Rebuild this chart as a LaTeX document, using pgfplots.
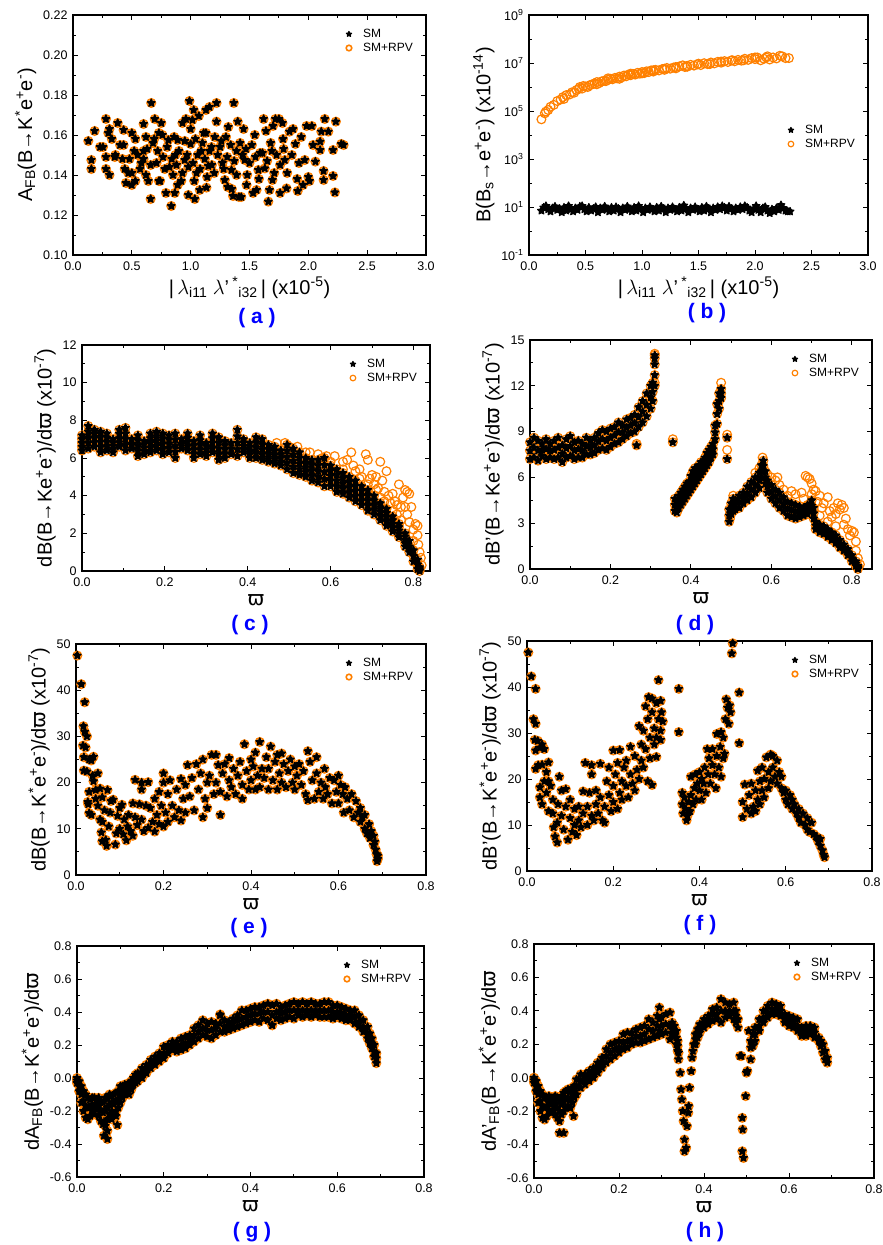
\documentclass[border=0pt]{standalone}
\usepackage{fontspec}
\setmainfont{Liberation Sans}
\newfontfamily\dejavu{DejaVu Sans}
\usepackage{pgfplots}
\usepackage{pgfplotstable}
\pgfplotsset{compat=1.18}
\definecolor{orng}{RGB}{255,128,0}
\definecolor{lblue}{RGB}{0,0,255}

% five-pointed star marker
\pgfdeclareplotmark{pstar}{%
  \pgfpathmoveto{\pgfpointpolar{90}{\pgfplotmarksize}}%
  \pgfpathlineto{\pgfpointpolar{126}{0.5\pgfplotmarksize}}%
  \pgfpathlineto{\pgfpointpolar{162}{\pgfplotmarksize}}%
  \pgfpathlineto{\pgfpointpolar{198}{0.5\pgfplotmarksize}}%
  \pgfpathlineto{\pgfpointpolar{234}{\pgfplotmarksize}}%
  \pgfpathlineto{\pgfpointpolar{270}{0.5\pgfplotmarksize}}%
  \pgfpathlineto{\pgfpointpolar{306}{\pgfplotmarksize}}%
  \pgfpathlineto{\pgfpointpolar{342}{0.5\pgfplotmarksize}}%
  \pgfpathlineto{\pgfpointpolar{18}{\pgfplotmarksize}}%
  \pgfpathlineto{\pgfpointpolar{54}{0.5\pgfplotmarksize}}%
  \pgfpathclose
  \pgfusepathqfillstroke
}

\newcommand{\vp}{{\dejavu ϖ}}

\pgfplotsset{
  panel/.style={
    scale only axis, anchor=north west,
    axis line style={line width=1.2pt},
    every tick/.style={black, line width=0.9pt},
    major tick length=5pt, minor tick length=3pt,
    tick align=inside, minor tick num=1,
    tick label style={font=\fontsize{12.5}{14}\selectfont},
    label style={font=\fontsize{20}{23}\selectfont},
    /pgf/number format/assume math mode=true,
    xticklabel style={yshift=-3pt, /pgf/number format/.cd, fixed, fixed zerofill, precision=1},
    yticklabel style={xshift=-2pt},
    legend style={draw=none, fill=none, font=\fontsize{12}{15}\selectfont,
      at={(1,1)}, anchor=north east, xshift=-8pt, yshift=-10pt, cells={anchor=west}},
    legend image code/.code={\draw[##1, mark size=2.8pt] plot coordinates {(0cm,0cm)}; \path (0.42cm,0cm);},
  },
  sm/.style={only marks, mark=pstar, mark size=4.1pt,
    mark options={draw=black, fill=black, line width=1.0pt, line join=round}},
  rpv/.style={only marks, color=orng, mark=o, mark size=4.2pt,
    mark options={draw=orng, line width=1.6pt}},
  rpvo/.style={only marks, color=orng, mark=o, mark size=4.4pt,
    mark options={draw=orng, line width=1.2pt}},
  w/.style={xlabel={\vp}, xtick={0,0.2,0.4,0.6,0.8}, xlabel style={yshift=-1pt}},
}

% ---------- (a) ----------
\pgfplotstableread[row sep=\\]{x y\\
0.13 0.157\\ 0.156 0.1475\\ 0.156 0.143\\ 0.184 0.162\\ 0.23 0.154\\ 0.255 0.154\\ 0.28 0.168\\ 0.28 0.149\\
0.28 0.143\\ 0.30 0.161\\ 0.31 0.163\\ 0.31 0.140\\ 0.33 0.158\\ 0.355 0.149\\ 0.36 0.150\\ 0.38 0.166\\
0.40 0.155\\ 0.43 0.155\\ 0.43 0.1625\\ 0.44 0.143\\ 0.45 0.136\\ 0.48 0.148\\ 0.50 0.161\\ 0.50 0.135\\
0.50 0.141\\ 0.52 0.152\\ 0.53 0.137\\ 0.57 0.143\\ 0.60 0.1655\\ 0.60 0.152\\ 0.60 0.148\\ 0.62 0.140\\
0.62 0.159\\ 0.64 0.137\\ 0.66 0.128\\ 0.665 0.176\\ 0.68 0.156\\ 0.695 0.168\\ 0.71 0.146\\ 0.73 0.161\\
0.75 0.166\\ 0.74 0.137\\ 0.765 0.149\\ 0.79 0.131\\ 0.81 0.1575\\ 0.82 0.144\\ 0.835 0.1245\\ 0.85 0.140\\
0.865 0.131\\ 0.87 0.150\\ 0.89 0.1575\\ 0.92 0.137\\ 0.93 0.166\\ 0.95 0.1475\\ 0.96 0.168\\ 0.98 0.130\\
0.99 0.177\\ 1.0 0.1555\\ 1.015 0.1675\\ 1.026 0.1725\\ 1.035 0.128\\ 1.05 0.141\\ 1.07 0.1695\\ 1.077 0.1325\\
1.09 0.152\\ 1.11 0.161\\ 1.13 0.1725\\ 1.134 0.1337\\ 1.15 0.1445\\ 1.16 0.174\\ 1.177 0.154\\ 1.205 0.159\\
1.22 0.176\\ 1.22 0.1667\\ 1.25 0.154\\ 1.27 0.146\\ 1.29 0.1375\\ 1.30 0.159\\ 1.315 0.134\\ 1.32 0.164\\
1.347 0.1425\\ 1.36 0.1295\\ 1.367 0.176\\ 1.39 0.152\\ 1.40 0.1667\\ 1.41 0.129\\ 1.43 0.129\\ 1.45 0.163\\
1.46 0.1475\\ 1.475 0.135\\ 1.48 0.140\\ 1.53 0.131\\ 1.545 0.160\\ 1.56 0.1325\\ 1.575 0.1425\\ 1.59 0.151\\
1.62 0.168\\ 1.63 0.1433\\ 1.64 0.162\\ 1.66 0.1267\\ 1.67 0.1325\\ 1.69 0.152\\ 1.695 0.1375\\ 1.70 0.1645\\
1.72 0.168\\ 1.75 0.168\\ 1.76 0.131\\ 1.78 0.166\\ 1.785 0.158\\ 1.80 0.1475\\ 1.815 0.1333\\ 1.84 0.1617\\
1.87 0.163\\ 1.89 0.1555\\ 1.905 0.138\\ 1.91 0.132\\ 1.94 0.159\\ 1.955 0.135\\ 1.97 0.1475\\ 1.985 0.1645\\
2.0 0.139\\ 2.01 0.137\\ 2.03 0.1645\\ 2.04 0.155\\ 2.06 0.1467\\ 2.10 0.1567\\ 2.10 0.1525\\ 2.11 0.1617\\
2.13 0.1375\\ 2.13 0.142\\ 2.14 0.168\\ 2.17 0.1617\\ 2.21 0.1525\\ 2.21 0.1395\\ 2.226 0.1313\\ 2.234 0.1667\\
2.28 0.1555\\ 2.30 0.155\\
0.55 0.150\\ 0.58 0.146\\ 0.63 0.153\\ 0.66 0.145\\ 0.69 0.158\\ 0.72 0.152\\ 0.76 0.160\\ 0.78 0.143\\
0.80 0.154\\ 0.84 0.148\\ 0.86 0.159\\ 0.88 0.145\\ 0.90 0.152\\ 0.93 0.141\\ 0.95 0.157\\ 0.97 0.150\\
0.98 0.144\\ 1.00 0.163\\ 1.02 0.146\\ 1.04 0.158\\ 1.06 0.150\\ 1.08 0.143\\ 1.10 0.156\\ 1.12 0.148\\
1.14 0.139\\ 1.16 0.152\\ 1.18 0.145\\ 1.20 0.141\\ 1.23 0.150\\ 1.26 0.157\\ 1.28 0.143\\ 1.31 0.149\\
1.34 0.155\\ 1.37 0.147\\ 1.39 0.140\\ 1.42 0.156\\ 1.44 0.150\\ 1.47 0.153\\ 1.50 0.146\\ 1.52 0.155\\
1.55 0.149\\ 1.58 0.138\\ 1.61 0.151\\ 1.65 0.147\\ 1.68 0.156\\ 1.71 0.141\\ 1.73 0.150\\ 1.76 0.145\\
1.79 0.153\\ 1.82 0.141\\ 1.86 0.150\\ 1.92 0.146\\ 0.53 0.158\\ 0.47 0.141\\ 0.42 0.148\\ 1.03 0.137\\
1.13 0.161\\ 1.35 0.133\\ 0.73 0.137\\ 0.89 0.135\\
}\dA

% ---------- (b) ----------
\pgfplotstableread[row sep=\\]{x y\\
0.11 7\\ 0.13 9.5\\ 0.15 11\\ 0.17 8\\ 0.19 6.5\\ 0.21 9\\ 0.23 10.5\\ 0.25 7.5\\ 0.27 8.5\\ 0.29 6\\
0.31 9.5\\ 0.33 7\\ 0.35 11\\ 0.37 8\\ 0.39 6.5\\ 0.41 9\\ 0.43 7.5\\ 0.45 10.5\\ 0.47 11\\ 0.49 8\\
0.51 6.5\\ 0.53 9.5\\ 0.55 7\\ 0.57 8.5\\ 0.59 10\\ 0.61 6\\ 0.63 9\\ 0.65 7.5\\ 0.67 10.5\\ 0.69 8\\
0.71 6.5\\ 0.73 9.5\\ 0.75 7\\ 0.77 10\\ 0.79 8.5\\ 0.81 6\\ 0.83 9\\ 0.85 7.5\\ 0.87 10.5\\ 0.89 8\\
0.91 6.5\\ 0.93 9.5\\ 0.95 7\\ 0.97 11\\ 0.99 8.5\\ 1.01 6\\ 1.03 9\\ 1.05 7.5\\ 1.07 10\\ 1.09 8\\
1.11 6.5\\ 1.13 9.5\\ 1.15 7\\ 1.17 10.5\\ 1.19 8.5\\ 1.21 6\\ 1.23 9\\ 1.25 7.5\\ 1.27 10\\ 1.29 8\\
1.31 6.5\\ 1.33 9.5\\ 1.35 7\\ 1.37 11.5\\ 1.39 8.5\\ 1.41 6\\ 1.43 9\\ 1.45 7.5\\ 1.47 10\\ 1.49 8\\
1.51 6.5\\ 1.53 9.5\\ 1.55 7\\ 1.57 10.5\\ 1.59 8.5\\ 1.61 6\\ 1.63 9\\ 1.65 7.5\\ 1.67 10\\ 1.69 8\\
1.71 11\\ 1.73 9.5\\ 1.75 7\\ 1.77 10.5\\ 1.79 8.5\\ 1.81 6.5\\ 1.83 9\\ 1.85 7.5\\ 1.87 10\\ 1.89 8\\
1.91 11\\ 1.93 9.5\\ 1.95 7\\ 1.97 6\\ 1.99 8.5\\ 2.01 11\\ 2.03 7.5\\ 2.05 6\\ 2.07 9\\ 2.09 10\\
2.11 7\\ 2.13 5.5\\ 2.15 8\\ 2.17 6.5\\ 2.19 9\\ 2.21 7.5\\ 2.23 12\\ 2.25 9\\ 2.27 7\\ 2.29 6.5\\ 2.31 6.5\\
}\dBsm
\pgfplotstableread[row sep=\\]{x y\\
0.11 4.5e4\\ 0.14 8.0e4\\ 0.15 9.5e4\\ 0.17 1.1e5\\ 0.19 1.5e5\\ 0.22 1.8e5\\ 0.25 2.6e5\\ 0.28 3.0e5\\
0.30 3.8e5\\ 0.31 3.2e5\\ 0.33 4.6e5\\ 0.36 4.9e5\\ 0.38 6.0e5\\ 0.40 5.8e5\\ 0.42 7.5e5\\ 0.44 8.3e5\\
0.45 1.0e6\\ 0.47 8.6e5\\ 0.48 1.1e6\\ 0.50 1.05e6\\ 0.52 1.0e6\\ 0.54 1.2e6\\ 0.56 1.3e6\\ 0.58 1.4e6\\
0.60 1.6e6\\ 0.62 1.45e6\\ 0.64 1.7e6\\ 0.66 1.8e6\\ 0.68 1.75e6\\ 0.70 2.0e6\\ 0.72 2.2e6\\ 0.74 2.1e6\\
0.76 2.4e6\\ 0.78 2.3e6\\ 0.80 2.7e6\\ 0.82 2.5e6\\ 0.84 3.0e6\\ 0.86 2.8e6\\ 0.88 3.3e6\\ 0.90 3.1e6\\
0.92 3.5e6\\ 0.94 3.3e6\\ 0.96 3.9e6\\ 0.98 3.6e6\\ 1.00 4.2e6\\ 1.02 3.8e6\\ 1.04 4.5e6\\ 1.06 4.2e6\\
1.08 4.9e6\\ 1.10 4.4e6\\ 1.12 5.2e6\\ 1.15 4.9e6\\ 1.18 5.6e6\\ 1.20 5.2e6\\ 1.22 6.2e6\\ 1.25 5.8e6\\
1.28 6.5e6\\ 1.30 6.0e6\\ 1.33 7.2e6\\ 1.36 8.0e6\\ 1.38 6.8e6\\ 1.40 7.6e6\\ 1.43 8.4e6\\ 1.46 7.8e6\\
1.49 8.8e6\\ 1.52 8.2e6\\ 1.55 9.8e6\\ 1.58 9.0e6\\ 1.61 1.05e7\\ 1.64 9.6e6\\ 1.67 1.12e7\\ 1.70 1.03e7\\
1.73 1.2e7\\ 1.76 1.1e7\\ 1.79 1.28e7\\ 1.82 1.18e7\\ 1.85 1.35e7\\ 1.88 1.25e7\\ 1.91 1.5e7\\ 1.94 1.35e7\\
1.97 1.6e7\\ 2.00 1.45e7\\ 2.02 1.7e7\\ 2.05 1.3e7\\ 2.08 1.5e7\\ 2.11 1.9e7\\ 2.13 1.4e7\\ 2.16 1.7e7\\
2.19 1.55e7\\ 2.22 2.0e7\\ 2.24 1.9e7\\ 2.27 1.6e7\\ 2.30 1.6e7\\
0.6 1.3e6\\ 0.7 2.3e6\\ 0.9 3.6e6\\ 1.1 5.0e6\\ 1.3 6.8e6\\ 1.5 9.4e6\\ 1.7 1.15e7\\ 1.9 1.3e7\\
2.1 1.7e7\\ 0.8 2.2e6\\ 1.0 3.7e6\\ 1.2 5.8e6\\ 1.4 7.0e6\\ 1.6 9.0e6\\ 1.8 1.3e7\\ 2.0 1.7e7\\
}\dBrpv

% ---------- (c) ----------
\pgfplotstableread[row sep=\\]{x y\\
0.00 6.4\\ 0.00 6.8\\ 0.00 7.2\\ 0.015 6.5\\ 0.015 7.1\\ 0.015 7.7\\ 0.03 6.6\\ 0.03 7.05\\ 0.03 7.5\\
0.045 6.3\\ 0.045 6.85\\ 0.045 7.4\\ 0.06 6.4\\ 0.06 6.85\\ 0.06 7.3\\ 0.075 6.3\\ 0.075 6.65\\ 0.075 7.0\\
0.09 6.6\\ 0.09 7.05\\ 0.09 7.5\\ 0.105 6.4\\ 0.105 7.0\\ 0.105 7.6\\ 0.12 6.5\\ 0.12 6.75\\ 0.12 7.0\\
0.135 6.1\\ 0.135 6.65\\ 0.135 7.2\\ 0.15 6.2\\ 0.15 6.55\\ 0.15 6.9\\ 0.165 6.3\\ 0.165 6.8\\ 0.165 7.3\\
0.18 6.4\\ 0.18 6.9\\ 0.18 7.4\\ 0.195 6.2\\ 0.195 6.75\\ 0.195 7.3\\ 0.21 6.3\\ 0.21 6.75\\ 0.21 7.2\\
0.225 6.0\\ 0.225 6.65\\ 0.225 7.3\\ 0.24 6.5\\ 0.24 6.75\\ 0.24 7.0\\ 0.255 6.4\\ 0.255 6.85\\ 0.255 7.3\\
0.27 6.0\\ 0.27 6.45\\ 0.27 6.9\\ 0.285 6.2\\ 0.285 6.7\\ 0.285 7.2\\ 0.30 6.1\\ 0.30 6.45\\ 0.30 6.8\\
0.315 6.3\\ 0.315 6.8\\ 0.315 7.3\\ 0.33 5.9\\ 0.33 6.5\\ 0.33 7.1\\ 0.345 6.0\\ 0.345 6.45\\ 0.345 6.9\\
0.36 6.2\\ 0.36 6.5\\ 0.36 6.8\\ 0.375 6.1\\ 0.375 6.8\\ 0.375 7.5\\ 0.39 6.3\\ 0.39 6.65\\ 0.39 7.0\\
0.405 6.0\\ 0.405 6.4\\ 0.405 6.8\\ 0.42 6.0\\ 0.42 6.55\\ 0.42 7.1\\ 0.435 5.9\\ 0.435 6.45\\ 0.435 7.0\\
0.45 5.8\\ 0.45 6.25\\ 0.45 6.7\\ 0.465 5.7\\ 0.465 6.15\\ 0.465 6.6\\ 0.48 5.6\\ 0.48 6.0\\ 0.48 6.4\\
0.495 5.4\\ 0.495 6.05\\ 0.495 6.7\\ 0.51 5.2\\ 0.51 5.85\\ 0.51 6.5\\ 0.525 5.1\\ 0.525 5.7\\ 0.525 6.3\\
0.54 5.0\\ 0.54 5.5\\ 0.54 6.0\\ 0.555 4.8\\ 0.555 5.35\\ 0.555 5.9\\ 0.57 4.7\\ 0.57 5.3\\ 0.57 5.9\\
0.585 4.5\\ 0.585 5.25\\ 0.585 6.0\\ 0.60 4.5\\ 0.60 5.05\\ 0.60 5.6\\ 0.615 4.2\\ 0.615 4.8\\ 0.615 5.4\\
0.63 4.1\\ 0.63 4.65\\ 0.63 5.2\\ 0.645 3.9\\ 0.645 4.45\\ 0.645 5.0\\ 0.66 3.7\\ 0.66 4.25\\ 0.66 4.8\\
0.675 3.5\\ 0.675 4.0\\ 0.675 4.5\\ 0.69 3.2\\ 0.69 3.75\\ 0.69 4.3\\ 0.705 3.0\\ 0.705 3.5\\ 0.705 4.0\\
0.72 2.7\\ 0.72 3.15\\ 0.72 3.6\\ 0.735 2.4\\ 0.735 2.85\\ 0.735 3.3\\ 0.75 2.1\\ 0.75 2.5\\ 0.75 2.9\\
0.765 1.8\\ 0.765 2.15\\ 0.765 2.5\\ 0.78 1.3\\ 0.78 1.65\\ 0.78 2.0\\ 0.79 1.0\\ 0.79 1.3\\ 0.79 1.6\\
0.80 0.5\\ 0.80 0.8\\ 0.80 1.1\\ 0.81 0.1\\ 0.81 0.35\\ 0.81 0.6\\ 0.815 0.0\\ 0.815 0.1\\ 0.815 0.2\\
0.00 6.6\\ 0.00 7.0\\ 0.015 6.8\\ 0.015 7.4\\ 0.03 6.83\\ 0.03 7.28\\ 0.045 6.58\\ 0.045 7.13\\
0.06 6.63\\ 0.06 7.08\\ 0.075 6.48\\ 0.075 6.83\\ 0.09 6.83\\ 0.09 7.28\\ 0.105 6.7\\ 0.105 7.3\\
0.135 6.38\\ 0.135 6.93\\ 0.15 6.38\\ 0.15 6.73\\ 0.165 6.55\\ 0.165 7.05\\ 0.18 6.65\\ 0.18 7.15\\
0.195 6.48\\ 0.195 7.03\\ 0.21 6.53\\ 0.21 6.98\\ 0.225 6.33\\ 0.225 6.98\\ 0.255 6.63\\ 0.255 7.08\\
0.27 6.23\\ 0.27 6.68\\ 0.285 6.45\\ 0.285 6.95\\ 0.30 6.28\\ 0.30 6.63\\ 0.315 6.55\\ 0.315 7.05\\
0.33 6.2\\ 0.33 6.8\\ 0.345 6.23\\ 0.345 6.68\\ 0.375 6.45\\ 0.375 7.15\\ 0.39 6.48\\ 0.39 6.83\\
0.405 6.2\\ 0.405 6.6\\ 0.42 6.28\\ 0.42 6.83\\ 0.435 6.18\\ 0.435 6.73\\ 0.45 6.03\\ 0.45 6.48\\
0.465 5.93\\ 0.465 6.38\\ 0.48 5.8\\ 0.48 6.2\\ 0.495 5.73\\ 0.495 6.38\\ 0.51 5.53\\ 0.51 6.18\\
0.525 5.4\\ 0.525 6.0\\ 0.54 5.25\\ 0.54 5.75\\ 0.555 5.08\\ 0.555 5.63\\ 0.57 5.0\\ 0.57 5.6\\
0.585 4.88\\ 0.585 5.63\\ 0.60 4.78\\ 0.60 5.33\\ 0.615 4.5\\ 0.615 5.1\\ 0.63 4.38\\ 0.63 4.93\\
0.645 4.18\\ 0.645 4.73\\ 0.66 3.98\\ 0.66 4.53\\ 0.675 3.75\\ 0.675 4.25\\ 0.69 3.48\\ 0.69 4.03\\
0.705 3.25\\ 0.705 3.75\\ 0.72 2.93\\ 0.72 3.38\\ 0.735 2.63\\ 0.735 3.08\\ 0.75 2.3\\ 0.75 2.7\\
0.765 1.98\\ 0.765 2.33\\ 0.78 1.48\\ 0.78 1.83\\
}\dCsm
\pgfplotstableread[row sep=\\]{x y\\
0.49 6.8\\ 0.52 6.6\\ 0.55 6.3\\ 0.57 6.2\\ 0.59 6.1\\ 0.61 6.1\\ 0.63 5.8\\ 0.64 5.9\\ 0.65 6.3\\
0.655 5.6\\ 0.66 5.3\\ 0.67 5.4\\ 0.675 5.0\\ 0.685 6.2\\ 0.69 5.9\\ 0.695 4.9\\ 0.70 5.1\\ 0.705 4.6\\
0.71 5.0\\ 0.715 4.4\\ 0.72 5.8\\ 0.725 4.8\\ 0.73 4.2\\ 0.735 5.3\\ 0.74 4.0\\ 0.745 3.6\\ 0.75 4.1\\
0.755 3.7\\ 0.76 3.0\\ 0.765 4.6\\ 0.77 3.4\\ 0.775 3.9\\ 0.78 4.3\\ 0.785 4.2\\ 0.79 4.1\\ 0.785 3.0\\
0.79 2.6\\ 0.795 3.4\\ 0.80 2.2\\ 0.805 2.5\\ 0.81 2.4\\ 0.81 1.9\\ 0.812 1.4\\ 0.815 1.0\\ 0.818 0.7\\
0.82 0.3\\ 0.80 1.6\\ 0.77 2.7\\ 0.75 3.2\\ 0.73 3.7\\ 0.71 4.3\\ 0.69 4.6\\ 0.67 4.9\\ 0.63 5.4\\
0.60 5.8\\ 0.58 6.0\\ 0.54 6.3\\ 0.50 6.6\\ 0.47 6.8\\ 0.72 3.9\\ 0.76 3.5\\ 0.78 3.4\\
}\dCx

% ---------- (d) ----------
\pgfplotstableread[row sep=\\]{x y\\
0.00 7.2\\ 0.00 7.75\\ 0.00 8.3\\ 0.01 7.3\\ 0.01 7.95\\ 0.01 8.6\\ 0.02 7.1\\ 0.02 7.75\\ 0.02 8.4\\
0.03 7.4\\ 0.03 7.8\\ 0.03 8.2\\ 0.04 7.2\\ 0.04 7.85\\ 0.04 8.5\\ 0.05 7.3\\ 0.05 7.75\\ 0.05 8.2\\
0.06 7.2\\ 0.06 7.8\\ 0.06 8.4\\ 0.07 7.3\\ 0.07 7.95\\ 0.07 8.6\\ 0.08 7.0\\ 0.08 7.55\\ 0.08 8.1\\
0.09 7.3\\ 0.09 7.9\\ 0.09 8.5\\ 0.10 7.4\\ 0.10 8.05\\ 0.10 8.7\\ 0.11 7.2\\ 0.11 7.75\\ 0.11 8.3\\
0.12 7.3\\ 0.12 7.85\\ 0.12 8.4\\ 0.13 7.3\\ 0.13 7.75\\ 0.13 8.2\\ 0.14 7.5\\ 0.14 8.05\\ 0.14 8.6\\
0.15 7.5\\ 0.15 7.95\\ 0.15 8.4\\ 0.16 7.6\\ 0.16 8.1\\ 0.16 8.6\\ 0.17 7.8\\ 0.17 8.35\\ 0.17 8.9\\
0.18 7.9\\ 0.18 8.5\\ 0.18 9.1\\ 0.19 7.8\\ 0.19 8.4\\ 0.19 9.0\\ 0.20 8.0\\ 0.20 8.6\\ 0.20 9.2\\
0.21 8.2\\ 0.21 8.75\\ 0.21 9.3\\ 0.22 8.3\\ 0.22 8.95\\ 0.22 9.6\\ 0.23 8.5\\ 0.23 8.95\\ 0.23 9.4\\
0.24 8.7\\ 0.24 9.25\\ 0.24 9.8\\ 0.25 8.9\\ 0.25 9.4\\ 0.25 9.9\\ 0.26 9.0\\ 0.26 9.55\\ 0.26 10.1\\
0.27 9.3\\ 0.27 9.95\\ 0.27 10.6\\ 0.28 9.6\\ 0.28 10.3\\ 0.28 11.0\\ 0.29 10.0\\ 0.29 10.75\\ 0.29 11.5\\
0.30 10.5\\ 0.30 11.25\\ 0.30 12.0\\ 0.305 11.0\\ 0.305 11.6\\ 0.305 12.2\\ 0.31 12.0\\ 0.31 12.7\\ 0.31 13.4\\
0.31 13.8\\ 0.31 14.0\\ 0.265 8.1\\ 0.355 8.3\\ 0.49 8.6\\ 0.49 7.2\\
0.360 3.8\\ 0.360 4.2\\ 0.360 4.6\\ 0.365 3.7\\ 0.365 4.05\\ 0.365 4.4\\ 0.370 4.0\\ 0.370 4.4\\ 0.370 4.8\\
0.375 4.2\\ 0.375 4.6\\ 0.375 5.0\\ 0.380 4.4\\ 0.380 4.8\\ 0.380 5.2\\ 0.385 4.6\\ 0.385 5.0\\ 0.385 5.4\\
0.390 4.8\\ 0.390 5.2\\ 0.390 5.6\\ 0.395 5.0\\ 0.395 5.35\\ 0.395 5.7\\ 0.400 5.2\\ 0.400 5.65\\ 0.400 6.1\\
0.405 5.4\\ 0.405 5.9\\ 0.405 6.4\\ 0.410 5.6\\ 0.410 6.1\\ 0.410 6.6\\ 0.415 5.8\\ 0.415 6.15\\ 0.415 6.5\\
0.420 6.0\\ 0.420 6.4\\ 0.420 6.8\\ 0.425 6.2\\ 0.425 6.6\\ 0.425 7.0\\ 0.430 6.4\\ 0.430 6.7\\ 0.430 7.0\\
0.435 6.6\\ 0.435 6.95\\ 0.435 7.3\\ 0.440 6.8\\ 0.440 7.2\\ 0.440 7.6\\ 0.445 7.0\\ 0.445 7.4\\ 0.445 7.8\\
0.450 7.3\\ 0.450 7.65\\ 0.450 8.0\\ 0.455 7.5\\ 0.455 7.85\\ 0.455 8.2\\ 0.460 8.5\\ 0.460 8.95\\ 0.460 9.4\\
0.465 9.5\\ 0.465 10.15\\ 0.465 10.8\\ 0.470 10.5\\ 0.470 11.0\\ 0.470 11.5\\ 0.475 11.2\\ 0.475 11.5\\ 0.475 11.8\\
0.495 3.1\\ 0.495 3.5\\ 0.495 3.9\\ 0.500 3.6\\ 0.500 3.95\\ 0.500 4.3\\ 0.505 3.8\\ 0.505 4.2\\ 0.505 4.6\\
0.510 3.9\\ 0.510 4.2\\ 0.510 4.5\\ 0.520 4.0\\ 0.520 4.4\\ 0.520 4.8\\ 0.530 4.3\\ 0.530 4.65\\ 0.530 5.0\\
0.540 4.5\\ 0.540 4.95\\ 0.540 5.4\\ 0.550 4.7\\ 0.550 5.2\\ 0.550 5.7\\ 0.560 5.0\\ 0.560 5.5\\ 0.560 6.0\\
0.570 5.3\\ 0.570 5.8\\ 0.570 6.3\\ 0.575 6.0\\ 0.575 6.4\\ 0.575 6.8\\ 0.580 6.4\\ 0.580 6.75\\ 0.580 7.1\\
0.585 5.6\\ 0.585 6.0\\ 0.585 6.4\\ 0.590 5.0\\ 0.590 5.4\\ 0.590 5.8\\ 0.600 4.6\\ 0.600 5.05\\ 0.600 5.5\\
0.610 4.3\\ 0.610 4.75\\ 0.610 5.2\\ 0.620 4.0\\ 0.620 4.5\\ 0.620 5.0\\ 0.630 3.8\\ 0.630 4.25\\ 0.630 4.7\\
0.640 3.5\\ 0.640 3.95\\ 0.640 4.4\\ 0.650 3.4\\ 0.650 3.85\\ 0.650 4.3\\ 0.660 3.3\\ 0.660 3.75\\ 0.660 4.2\\
0.670 3.4\\ 0.670 3.75\\ 0.670 4.1\\ 0.680 3.5\\ 0.680 3.75\\ 0.680 4.0\\ 0.690 3.6\\ 0.690 3.9\\ 0.690 4.2\\
0.700 3.8\\ 0.700 4.15\\ 0.700 4.5\\ 0.705 3.3\\ 0.705 3.65\\ 0.705 4.0\\ 0.710 2.6\\ 0.710 2.85\\ 0.710 3.1\\
0.720 2.4\\ 0.720 2.65\\ 0.720 2.9\\ 0.730 2.3\\ 0.730 2.55\\ 0.730 2.8\\ 0.740 2.1\\ 0.740 2.35\\ 0.740 2.6\\
0.750 1.9\\ 0.750 2.15\\ 0.750 2.4\\ 0.760 1.7\\ 0.760 1.95\\ 0.760 2.2\\ 0.770 1.4\\ 0.770 1.65\\ 0.770 1.9\\
0.780 1.2\\ 0.780 1.4\\ 0.780 1.6\\ 0.790 0.9\\ 0.790 1.1\\ 0.790 1.3\\ 0.800 0.5\\ 0.800 0.7\\ 0.800 0.9\\
0.810 0.2\\ 0.810 0.35\\ 0.810 0.5\\ 0.815 0.0\\ 0.815 0.1\\ 0.815 0.2\\
}\dDsm
\pgfplotstableread[row sep=\\]{x y\\
0.56 6.3\\ 0.57 6.6\\ 0.578 7.3\\ 0.59 6.2\\ 0.60 6.0\\ 0.61 5.8\\ 0.615 6.0\\ 0.63 5.2\\ 0.65 5.1\\
0.66 4.9\\ 0.675 5.0\\ 0.685 6.1\\ 0.69 6.0\\ 0.695 5.9\\ 0.70 5.6\\ 0.705 5.2\\ 0.71 5.1\\ 0.715 4.4\\
0.72 4.8\\ 0.725 4.0\\ 0.73 4.3\\ 0.74 4.7\\ 0.745 3.8\\ 0.75 3.4\\ 0.755 4.0\\ 0.76 3.6\\ 0.765 4.3\\
0.77 3.9\\ 0.775 4.2\\ 0.78 4.0\\ 0.785 3.3\\ 0.78 2.9\\ 0.79 2.6\\ 0.795 2.2\\ 0.80 2.5\\ 0.805 2.4\\
0.81 1.8\\ 0.81 1.2\\ 0.815 0.7\\ 0.82 0.3\\ 0.72 3.5\\ 0.74 3.1\\ 0.76 2.8\\ 0.70 4.9\\ 0.68 4.6\\
0.64 4.8\\ 0.62 5.5\\ 0.49 8.8\\ 0.49 7.8\\ 0.355 8.5\\ 0.31 14.1\\ 0.265 8.2\\ 0.497 3.3\\ 0.475 12.2\\
0.505 4.8\\ 0.31 12.2\\
}\dDx

% ---------- (e) ----------
\pgfplotstableread[row sep=\\]{x y\\
0.003 47.5\\ 0.012 41.3\\ 0.02 37.4\\ 0.017 32.2\\ 0.02 31.0\\ 0.025 30.0\\ 0.016 28.0\\ 0.022 27.6\\
0.018 25.5\\ 0.03 25.0\\ 0.04 25.6\\ 0.035 24.8\\ 0.018 22.6\\ 0.025 22.4\\ 0.038 21.5\\ 0.04 20.3\\
0.05 22.0\\ 0.03 18.0\\ 0.045 18.4\\ 0.055 18.7\\ 0.072 18.4\\ 0.027 15.8\\ 0.028 15.3\\ 0.03 13.4\\
0.035 13.0\\ 0.045 16.5\\ 0.05 15.0\\ 0.055 12.0\\ 0.06 16.8\\ 0.065 14.0\\ 0.06 11.5\\ 0.058 9.2\\
0.06 7.3\\ 0.07 6.3\\ 0.068 7.6\\ 0.075 10.5\\ 0.078 13.5\\ 0.08 16.0\\ 0.085 16.3\\ 0.09 6.6\\
0.092 9.0\\ 0.095 12.8\\ 0.1 14.5\\ 0.1 10.0\\ 0.105 15.2\\ 0.108 8.8\\ 0.11 12.0\\ 0.115 7.5\\
0.118 10.5\\ 0.12 13.0\\ 0.125 9.5\\ 0.13 15.5\\ 0.13 8.5\\ 0.135 12.5\\ 0.135 20.6\\ 0.14 10.8\\
0.145 15.3\\ 0.15 20.0\\ 0.15 18.5\\ 0.15 12.0\\ 0.155 9.5\\ 0.16 15.0\\ 0.165 20.1\\ 0.165 10.2\\
0.17 14.5\\ 0.175 11.5\\ 0.18 9.4\\ 0.18 16.5\\ 0.185 13.0\\ 0.19 11.0\\ 0.19 18.0\\ 0.195 15.0\\
0.2 22.0\\ 0.2 20.0\\ 0.2 10.5\\ 0.205 13.5\\ 0.21 17.5\\ 0.21 11.5\\ 0.215 20.5\\ 0.22 15.0\\
0.225 12.5\\ 0.23 18.5\\ 0.235 14.0\\ 0.24 20.8\\ 0.24 11.8\\ 0.245 16.5\\ 0.25 19.5\\ 0.25 13.5\\
0.255 23.8\\ 0.26 17.0\\ 0.265 21.0\\ 0.27 14.0\\ 0.275 24.0\\ 0.28 18.5\\ 0.285 22.0\\ 0.29 12.5\\
0.29 25.0\\ 0.295 16.5\\ 0.3 20.0\\ 0.3 14.5\\ 0.305 21.5\\ 0.31 26.0\\ 0.315 17.5\\ 0.32 26.0\\
0.32 20.0\\ 0.325 23.8\\ 0.33 13.0\\ 0.33 18.0\\ 0.335 22.0\\ 0.34 24.0\\ 0.345 17.0\\ 0.35 25.3\\
0.35 20.5\\ 0.355 19.0\\ 0.36 23.0\\ 0.365 17.5\\ 0.37 21.5\\ 0.375 24.5\\ 0.38 16.5\\ 0.38 19.5\\
0.385 28.3\\ 0.39 22.5\\ 0.395 18.5\\ 0.4 25.0\\ 0.4 20.5\\ 0.405 23.5\\ 0.41 18.5\\ 0.41 26.5\\
0.415 21.5\\ 0.42 28.8\\ 0.42 19.0\\ 0.425 23.0\\ 0.43 21.0\\ 0.435 25.5\\ 0.44 18.5\\ 0.44 23.0\\
0.445 27.8\\ 0.45 20.5\\ 0.455 24.5\\ 0.46 18.5\\ 0.46 26.0\\ 0.465 22.0\\ 0.47 20.0\\ 0.47 26.3\\
0.475 24.0\\ 0.48 19.0\\ 0.485 22.5\\ 0.49 25.0\\ 0.495 20.0\\ 0.5 23.5\\ 0.5 18.5\\ 0.505 21.5\\
0.51 24.0\\ 0.515 19.5\\ 0.52 22.5\\ 0.525 17.5\\ 0.53 26.8\\ 0.53 16.2\\ 0.535 24.5\\ 0.54 20.5\\
0.545 16.5\\ 0.55 25.5\\ 0.55 22.0\\ 0.555 18.0\\ 0.56 20.0\\ 0.565 16.5\\ 0.568 23.0\\ 0.57 19.0\\
0.575 17.5\\ 0.58 21.0\\ 0.585 15.5\\ 0.59 20.5\\ 0.595 18.0\\ 0.6 21.5\\ 0.6 15.5\\ 0.605 19.5\\
0.61 17.5\\ 0.612 13.5\\ 0.615 19.0\\ 0.62 16.5\\ 0.625 14.0\\ 0.63 17.5\\ 0.635 12.5\\ 0.64 16.0\\
0.645 13.5\\ 0.65 11.5\\ 0.65 14.5\\ 0.655 12.5\\ 0.66 10.0\\ 0.66 13.0\\ 0.665 9.0\\ 0.67 11.0\\
0.672 8.0\\ 0.675 9.5\\ 0.68 8.5\\ 0.68 6.5\\ 0.683 7.2\\ 0.685 5.5\\ 0.687 4.5\\ 0.69 3.5\\
0.69 4.2\\ 0.688 3.0\\
}\dE

% ---------- (f) ----------
\pgfplotstableread[row sep=\\]{x y\\
0.003 47.5\\ 0.01 42.3\\ 0.02 39.6\\ 0.015 33.0\\ 0.02 32.0\\ 0.018 28.5\\ 0.02 26.2\\ 0.025 28.3\\
0.03 26.8\\ 0.035 27.5\\ 0.04 26.5\\ 0.02 22.2\\ 0.026 23.0\\ 0.035 23.1\\ 0.045 21.5\\ 0.05 23.6\\
0.03 18.2\\ 0.04 19.5\\ 0.035 14.5\\ 0.03 16.0\\ 0.045 17.0\\ 0.05 19.5\\ 0.055 18.5\\ 0.05 13.0\\
0.06 15.5\\ 0.06 12.5\\ 0.062 9.5\\ 0.065 7.5\\ 0.07 6.2\\ 0.07 10.5\\ 0.072 14.5\\ 0.075 20.5\\
0.08 17.5\\ 0.08 12.0\\ 0.085 9.0\\ 0.09 17.8\\ 0.09 14.0\\ 0.095 6.8\\ 0.1 11.5\\ 0.1 15.5\\
0.105 8.5\\ 0.11 13.5\\ 0.11 10.0\\ 0.115 7.8\\ 0.12 14.0\\ 0.12 11.0\\ 0.125 9.5\\ 0.13 12.5\\
0.13 17.3\\ 0.135 23.5\\ 0.14 14.0\\ 0.14 10.0\\ 0.145 17.0\\ 0.15 21.0\\ 0.15 23.0\\ 0.15 12.0\\
0.155 11.0\\ 0.16 17.5\\ 0.16 14.5\\ 0.165 12.5\\ 0.17 23.3\\ 0.17 16.0\\ 0.175 11.0\\ 0.18 10.5\\
0.18 14.0\\ 0.185 19.5\\ 0.19 22.5\\ 0.19 16.5\\ 0.195 13.0\\ 0.2 26.2\\ 0.2 18.5\\ 0.2 15.0\\
0.205 21.0\\ 0.21 13.5\\ 0.21 23.5\\ 0.215 26.3\\ 0.215 17.0\\ 0.22 19.5\\ 0.22 15.5\\ 0.225 22.5\\
0.23 18.5\\ 0.23 24.0\\ 0.235 16.0\\ 0.24 21.0\\ 0.24 27.0\\ 0.245 19.0\\ 0.25 25.0\\ 0.25 17.5\\
0.255 22.0\\ 0.26 31.5\\ 0.26 20.0\\ 0.265 27.5\\ 0.265 24.0\\ 0.27 30.5\\ 0.27 22.5\\ 0.275 35.8\\
0.275 26.5\\ 0.28 19.5\\ 0.28 33.0\\ 0.282 37.8\\ 0.285 29.0\\ 0.285 24.5\\ 0.29 18.7\\ 0.29 34.5\\
0.29 37.5\\ 0.295 31.0\\ 0.295 27.5\\ 0.3 36.5\\ 0.3 29.0\\ 0.3 24.8\\ 0.305 41.5\\ 0.305 33.0\\
0.31 37.0\\ 0.31 30.5\\ 0.312 34.5\\ 0.315 32.5\\ 0.31 28.5\\ 0.352 39.6\\ 0.352 30.2\\
0.36 17.0\\ 0.36 14.5\\ 0.362 12.5\\ 0.365 16.0\\ 0.368 13.5\\ 0.37 11.0\\ 0.372 12.0\\ 0.375 15.0\\
0.378 13.0\\ 0.38 16.5\\ 0.38 20.5\\ 0.385 14.5\\ 0.388 18.0\\ 0.39 21.0\\ 0.392 15.5\\ 0.395 19.0\\
0.4 17.5\\ 0.4 21.5\\ 0.405 15.5\\ 0.405 20.0\\ 0.41 19.0\\ 0.412 22.5\\ 0.415 17.0\\ 0.418 26.5\\
0.42 21.0\\ 0.422 24.5\\ 0.425 19.0\\ 0.43 23.0\\ 0.43 26.5\\ 0.435 21.0\\ 0.438 18.0\\ 0.44 25.0\\
0.44 29.8\\ 0.445 22.5\\ 0.448 27.0\\ 0.45 20.5\\ 0.45 30.2\\ 0.455 24.5\\ 0.455 29.0\\ 0.458 25.5\\
0.46 33.0\\ 0.462 37.3\\ 0.465 35.5\\ 0.468 32.0\\ 0.47 36.0\\ 0.472 34.5\\ 0.475 47.3\\ 0.477 49.5\\
0.492 38.8\\ 0.492 27.8\\
0.5 11.7\\ 0.5 15.0\\ 0.505 18.8\\ 0.51 13.5\\ 0.515 16.5\\ 0.52 12.5\\ 0.52 19.0\\ 0.525 14.0\\
0.53 17.5\\ 0.53 13.0\\ 0.535 21.8\\ 0.535 15.5\\ 0.54 19.5\\ 0.54 14.5\\ 0.545 22.5\\ 0.545 17.5\\
0.55 20.0\\ 0.55 16.0\\ 0.555 24.7\\ 0.56 21.5\\ 0.56 18.0\\ 0.565 25.3\\ 0.565 19.5\\ 0.57 22.5\\
0.57 25.0\\ 0.575 20.5\\ 0.58 24.0\\ 0.58 19.0\\ 0.585 21.5\\ 0.59 18.0\\ 0.59 20.5\\ 0.595 17.0\\
0.6 15.5\\ 0.6 17.5\\ 0.605 14.5\\ 0.61 16.5\\ 0.615 13.5\\ 0.615 15.5\\ 0.62 14.5\\ 0.625 12.5\\
0.63 13.5\\ 0.63 11.5\\ 0.635 10.5\\ 0.64 12.5\\ 0.645 10.0\\ 0.65 11.5\\ 0.65 9.0\\ 0.655 8.5\\
0.66 10.5\\ 0.665 8.0\\ 0.67 7.5\\ 0.675 6.5\\ 0.68 7.0\\ 0.68 5.5\\ 0.685 4.5\\ 0.688 3.5\\ 0.69 3.0\\
}\dF

% ---------- (g) ----------
\pgfplotstableread[row sep=\\]{x y\\
0.000 -0.03\\ 0.000 -0.015\\ 0.000 0.00\\ 0.005 -0.08\\ 0.005 -0.05\\ 0.005 -0.02\\
0.010 -0.15\\ 0.010 -0.10\\ 0.010 -0.05\\ 0.015 -0.20\\ 0.015 -0.14\\ 0.015 -0.08\\
0.020 -0.24\\ 0.020 -0.17\\ 0.020 -0.10\\ 0.025 -0.25\\ 0.025 -0.18\\ 0.025 -0.12\\
0.030 -0.23\\ 0.030 -0.18\\ 0.030 -0.13\\ 0.035 -0.20\\ 0.035 -0.16\\ 0.035 -0.12\\
0.040 -0.22\\ 0.040 -0.17\\ 0.040 -0.12\\ 0.045 -0.19\\ 0.045 -0.16\\ 0.045 -0.13\\
0.050 -0.23\\ 0.050 -0.17\\ 0.050 -0.12\\ 0.055 -0.26\\ 0.055 -0.20\\ 0.055 -0.14\\
0.060 -0.28\\ 0.060 -0.21\\ 0.060 -0.15\\ 0.065 -0.27\\ 0.065 -0.19\\ 0.065 -0.12\\
0.070 -0.25\\ 0.070 -0.18\\ 0.070 -0.12\\ 0.075 -0.22\\ 0.075 -0.16\\ 0.075 -0.10\\
0.080 -0.20\\ 0.080 -0.15\\ 0.080 -0.11\\ 0.085 -0.22\\ 0.085 -0.16\\ 0.085 -0.10\\
0.090 -0.20\\ 0.090 -0.14\\ 0.090 -0.09\\ 0.095 -0.18\\ 0.095 -0.13\\ 0.095 -0.08\\
0.100 -0.15\\ 0.100 -0.10\\ 0.100 -0.05\\ 0.105 -0.12\\ 0.105 -0.08\\ 0.105 -0.05\\
0.110 -0.10\\ 0.110 -0.07\\ 0.110 -0.04\\ 0.115 -0.09\\ 0.115 -0.07\\ 0.115 -0.05\\
0.120 -0.10\\ 0.120 -0.06\\ 0.120 -0.03\\ 0.125 -0.07\\ 0.125 -0.04\\ 0.125 -0.02\\
0.130 -0.04\\ 0.130 -0.02\\ 0.130 0.00\\ 0.135 -0.03\\ 0.135 0.00\\ 0.135 0.02\\
0.140 -0.02\\ 0.140 0.00\\ 0.140 0.03\\ 0.150 0.00\\ 0.150 0.03\\ 0.150 0.06\\
0.160 0.03\\ 0.160 0.05\\ 0.160 0.08\\ 0.170 0.06\\ 0.170 0.08\\ 0.170 0.11\\
0.180 0.08\\ 0.180 0.10\\ 0.180 0.13\\ 0.190 0.10\\ 0.190 0.12\\ 0.190 0.15\\
0.200 0.12\\ 0.200 0.15\\ 0.200 0.19\\ 0.210 0.15\\ 0.210 0.17\\ 0.210 0.20\\
0.220 0.17\\ 0.220 0.19\\ 0.220 0.22\\ 0.230 0.16\\ 0.230 0.19\\ 0.230 0.22\\
0.240 0.17\\ 0.240 0.20\\ 0.240 0.24\\ 0.250 0.18\\ 0.250 0.21\\ 0.250 0.25\\
0.260 0.20\\ 0.260 0.23\\ 0.260 0.26\\ 0.270 0.22\\ 0.270 0.26\\ 0.270 0.30\\
0.280 0.24\\ 0.280 0.28\\ 0.280 0.32\\ 0.290 0.26\\ 0.290 0.30\\ 0.290 0.35\\
0.300 0.25\\ 0.300 0.29\\ 0.300 0.33\\ 0.310 0.24\\ 0.310 0.29\\ 0.310 0.34\\
0.320 0.26\\ 0.320 0.30\\ 0.320 0.33\\ 0.330 0.28\\ 0.330 0.33\\ 0.330 0.38\\
0.340 0.28\\ 0.340 0.31\\ 0.340 0.35\\ 0.350 0.29\\ 0.350 0.31\\ 0.350 0.34\\
0.360 0.30\\ 0.360 0.33\\ 0.360 0.36\\ 0.370 0.31\\ 0.370 0.35\\ 0.370 0.38\\
0.380 0.32\\ 0.380 0.36\\ 0.380 0.41\\ 0.390 0.33\\ 0.390 0.37\\ 0.390 0.41\\
0.400 0.34\\ 0.400 0.38\\ 0.400 0.42\\ 0.410 0.35\\ 0.410 0.39\\ 0.410 0.43\\
0.420 0.34\\ 0.420 0.39\\ 0.420 0.43\\ 0.430 0.36\\ 0.430 0.40\\ 0.430 0.44\\
0.440 0.35\\ 0.440 0.40\\ 0.440 0.45\\ 0.450 0.32\\ 0.450 0.38\\ 0.450 0.44\\
0.460 0.36\\ 0.460 0.40\\ 0.460 0.45\\ 0.470 0.35\\ 0.470 0.39\\ 0.470 0.43\\
0.480 0.36\\ 0.480 0.40\\ 0.480 0.44\\ 0.490 0.37\\ 0.490 0.41\\ 0.490 0.45\\
0.500 0.36\\ 0.500 0.41\\ 0.500 0.46\\ 0.510 0.38\\ 0.510 0.41\\ 0.510 0.45\\
0.520 0.37\\ 0.520 0.41\\ 0.520 0.46\\ 0.530 0.38\\ 0.530 0.41\\ 0.530 0.45\\
0.540 0.37\\ 0.540 0.41\\ 0.540 0.46\\ 0.550 0.38\\ 0.550 0.41\\ 0.550 0.45\\
0.560 0.37\\ 0.560 0.41\\ 0.560 0.45\\ 0.570 0.37\\ 0.570 0.41\\ 0.570 0.46\\
0.580 0.37\\ 0.580 0.41\\ 0.580 0.46\\ 0.590 0.36\\ 0.590 0.40\\ 0.590 0.44\\
0.600 0.37\\ 0.600 0.40\\ 0.600 0.44\\ 0.610 0.36\\ 0.610 0.39\\ 0.610 0.43\\
0.620 0.35\\ 0.620 0.38\\ 0.620 0.42\\ 0.630 0.35\\ 0.630 0.38\\ 0.630 0.41\\
0.640 0.33\\ 0.640 0.37\\ 0.640 0.41\\ 0.650 0.31\\ 0.650 0.34\\ 0.650 0.38\\
0.660 0.28\\ 0.660 0.31\\ 0.660 0.35\\ 0.670 0.24\\ 0.670 0.27\\ 0.670 0.31\\
0.675 0.21\\ 0.675 0.24\\ 0.675 0.27\\ 0.680 0.18\\ 0.680 0.21\\ 0.680 0.24\\
0.685 0.13\\ 0.685 0.16\\ 0.685 0.20\\ 0.690 0.09\\ 0.690 0.12\\ 0.690 0.15\\
0.062 -0.35\\ 0.07 -0.37\\ 0.065 -0.29\\ 0.093 -0.285\\ 0.07 -0.32\\ 0.08 -0.25\\ 0.09 -0.23\\
0.33 0.385\\ 0.45 0.32\\
}\dG

% ---------- (h) ----------
\pgfplotstableread[row sep=\\]{x y\\
0.000 -0.03\\ 0.000 -0.015\\ 0.000 0.00\\ 0.005 -0.08\\ 0.005 -0.05\\ 0.005 -0.02\\
0.010 -0.15\\ 0.010 -0.10\\ 0.010 -0.05\\ 0.015 -0.20\\ 0.015 -0.14\\ 0.015 -0.08\\
0.020 -0.24\\ 0.020 -0.17\\ 0.020 -0.10\\ 0.025 -0.25\\ 0.025 -0.18\\ 0.025 -0.12\\
0.030 -0.23\\ 0.030 -0.17\\ 0.030 -0.12\\ 0.035 -0.20\\ 0.035 -0.15\\ 0.035 -0.11\\
0.040 -0.21\\ 0.040 -0.16\\ 0.040 -0.12\\ 0.045 -0.19\\ 0.045 -0.15\\ 0.045 -0.12\\
0.050 -0.22\\ 0.050 -0.16\\ 0.050 -0.11\\ 0.055 -0.24\\ 0.055 -0.18\\ 0.055 -0.12\\
0.060 -0.26\\ 0.060 -0.20\\ 0.060 -0.14\\ 0.065 -0.22\\ 0.065 -0.16\\ 0.065 -0.11\\
0.070 -0.20\\ 0.070 -0.14\\ 0.070 -0.09\\ 0.075 -0.18\\ 0.075 -0.13\\ 0.075 -0.08\\
0.080 -0.17\\ 0.080 -0.12\\ 0.080 -0.07\\ 0.085 -0.18\\ 0.085 -0.13\\ 0.085 -0.08\\
0.090 -0.15\\ 0.090 -0.10\\ 0.090 -0.06\\ 0.095 -0.12\\ 0.095 -0.08\\ 0.095 -0.05\\
0.100 -0.10\\ 0.100 -0.05\\ 0.100 -0.01\\ 0.110 -0.06\\ 0.110 -0.02\\ 0.110 0.02\\
0.120 -0.04\\ 0.120 -0.01\\ 0.120 0.02\\ 0.130 -0.02\\ 0.130 0.01\\ 0.130 0.04\\
0.140 0.00\\ 0.140 0.03\\ 0.140 0.06\\ 0.150 0.03\\ 0.150 0.06\\ 0.150 0.09\\
0.160 0.06\\ 0.160 0.09\\ 0.160 0.12\\ 0.170 0.09\\ 0.170 0.13\\ 0.170 0.17\\
0.180 0.11\\ 0.180 0.15\\ 0.180 0.20\\ 0.190 0.13\\ 0.190 0.17\\ 0.190 0.21\\
0.200 0.15\\ 0.200 0.18\\ 0.200 0.22\\ 0.210 0.17\\ 0.210 0.21\\ 0.210 0.26\\
0.220 0.18\\ 0.220 0.22\\ 0.220 0.27\\ 0.230 0.20\\ 0.230 0.23\\ 0.230 0.27\\
0.240 0.21\\ 0.240 0.25\\ 0.240 0.29\\ 0.250 0.21\\ 0.250 0.25\\ 0.250 0.30\\
0.260 0.22\\ 0.260 0.26\\ 0.260 0.31\\ 0.270 0.23\\ 0.270 0.29\\ 0.270 0.35\\
0.280 0.24\\ 0.280 0.28\\ 0.280 0.33\\ 0.290 0.25\\ 0.290 0.31\\ 0.290 0.37\\
0.295 0.28\\ 0.295 0.35\\ 0.295 0.42\\ 0.300 0.26\\ 0.300 0.31\\ 0.300 0.36\\
0.310 0.27\\ 0.310 0.32\\ 0.310 0.38\\ 0.320 0.23\\ 0.320 0.31\\ 0.320 0.39\\
0.325 0.26\\ 0.325 0.29\\ 0.325 0.33\\ 0.330 0.25\\ 0.330 0.28\\ 0.330 0.31\\
0.335 0.20\\ 0.335 0.24\\ 0.335 0.28\\ 0.338 0.16\\ 0.338 0.19\\ 0.338 0.22\\
0.340 0.11\\ 0.340 0.15\\
0.344 0.03\\ 0.346 -0.07\\ 0.348 -0.13\\ 0.35 -0.20\\ 0.352 -0.26\\ 0.354 -0.37\\ 0.354 -0.44\\
0.358 -0.42\\ 0.36 -0.29\\ 0.363 -0.21\\ 0.364 -0.17\\ 0.366 -0.06\\ 0.37 0.04\\ 0.372 0.12\\
0.374 0.16\\ 0.376 0.20\\
0.380 0.20\\ 0.380 0.23\\ 0.380 0.26\\ 0.385 0.24\\ 0.385 0.27\\ 0.385 0.29\\
0.390 0.27\\ 0.390 0.30\\ 0.390 0.32\\ 0.400 0.30\\ 0.400 0.33\\ 0.400 0.35\\
0.410 0.32\\ 0.410 0.35\\ 0.410 0.37\\ 0.420 0.34\\ 0.420 0.38\\ 0.420 0.41\\
0.430 0.35\\ 0.430 0.38\\ 0.430 0.42\\ 0.440 0.33\\ 0.440 0.40\\ 0.440 0.47\\
0.450 0.36\\ 0.450 0.40\\ 0.450 0.45\\ 0.460 0.37\\ 0.460 0.40\\ 0.460 0.44\\
0.470 0.35\\ 0.470 0.40\\ 0.470 0.45\\ 0.475 0.33\\ 0.475 0.37\\ 0.475 0.40\\
0.480 0.30\\ 0.480 0.35\\
0.485 0.13\\ 0.488 0.13\\ 0.49 -0.24\\ 0.491 -0.31\\ 0.49 -0.44\\ 0.493 -0.48\\ 0.498 -0.11\\
0.5 0.03\\ 0.502 0.04\\ 0.51 0.11\\ 0.505 0.28\\ 0.51 0.22\\
0.510 0.18\\ 0.515 0.19\\ 0.515 0.26\\ 0.520 0.22\\ 0.520 0.26\\ 0.520 0.30\\
0.530 0.28\\ 0.530 0.31\\ 0.530 0.35\\ 0.540 0.33\\ 0.540 0.36\\ 0.540 0.40\\
0.550 0.36\\ 0.550 0.39\\ 0.550 0.43\\ 0.560 0.38\\ 0.560 0.41\\ 0.560 0.45\\
0.570 0.38\\ 0.570 0.41\\ 0.570 0.44\\ 0.580 0.37\\ 0.580 0.40\\ 0.580 0.43\\
0.590 0.33\\ 0.590 0.35\\ 0.590 0.38\\ 0.600 0.31\\ 0.600 0.34\\ 0.600 0.37\\
0.610 0.30\\ 0.610 0.33\\ 0.610 0.36\\ 0.620 0.28\\ 0.620 0.31\\ 0.620 0.35\\
0.630 0.25\\ 0.630 0.28\\ 0.630 0.30\\ 0.640 0.25\\ 0.640 0.28\\ 0.640 0.31\\
0.650 0.26\\ 0.650 0.28\\ 0.650 0.31\\ 0.660 0.24\\ 0.660 0.27\\ 0.660 0.30\\
0.670 0.22\\ 0.670 0.24\\ 0.675 0.19\\ 0.675 0.22\\ 0.680 0.15\\ 0.680 0.20\\
0.685 0.11\\ 0.685 0.16\\ 0.690 0.09\\ 0.690 0.12\\
0.06 -0.33\\ 0.07 -0.33\\ 0.093 -0.23\\ 0.085 -0.18\\
}\dH

\newcommand{\lbl}[3]{\node[font=\fontsize{21}{24}\bfseries\selectfont, text=lblue] at (#1pt,-#2pt) {( #3 )};}
\newcommand{\lam}{\textbar\,$\lambda$\textsubscript{i11} $\lambda$'\,\textsuperscript{*}\textsubscript{i32}\,\textbar\ (x10\textsuperscript{-5})}
\newcommand{\leg}{\addlegendimage{sm}\addlegendentry{SM}\addlegendimage{rpv}\addlegendentry{SM+RPV}}
\newcommand{\legO}{\addlegendimage{sm}\addlegendentry{SM}\addlegendimage{rpvo}\addlegendentry{SM+RPV}}

\begin{document}
\begin{tikzpicture}
\path[use as bounding box] (0pt,0pt) rectangle (883pt,-1245pt);

% (a)
\begin{axis}[panel, at={(73pt,-15pt)}, width=353pt, height=240pt,
  xmin=0, xmax=3, ymin=0.10, ymax=0.22,
  xtick={0,0.5,1,1.5,2,2.5,3}, ytick={0.10,0.12,0.14,0.16,0.18,0.20,0.22},
  yticklabel style={/pgf/number format/.cd, fixed, fixed zerofill, precision=2},
  xlabel={\lam},
  ylabel={A\textsubscript{FB}(B→K\textsuperscript{*}e\textsuperscript{+}e\textsuperscript{-})}]
\leg
\addplot[rpv, forget plot] table {\dA};
\addplot[sm, forget plot] table {\dA};
\end{axis}
\lbl{257}{318}{a}

% (b)
\begin{axis}[panel, at={(529pt,-15pt)}, width=339pt, height=240pt,
  xmin=0, xmax=3, ymode=log, ymin=0.1, ymax=1e9,
  xtick={0,0.5,1,1.5,2,2.5,3},
  ytick={0.1,10,1000,1e5,1e7,1e9}, minor ytick={1,100,1e4,1e6,1e8},
  yticklabels={10\textsuperscript{-1},10\textsuperscript{1},10\textsuperscript{3},10\textsuperscript{5},10\textsuperscript{7},10\textsuperscript{9}},
  legend style={at={(1,0.6)}, anchor=north east},
  xlabel={\lam},
  ylabel={B(B\textsubscript{s}→e\textsuperscript{+}e\textsuperscript{-}) (x10\textsuperscript{-14})}]
\legO
\addplot[rpvo, forget plot] table {\dBrpv};
\addplot[sm, forget plot] table {\dBsm};
\end{axis}
\lbl{707}{313}{b}

% (c)
\begin{axis}[panel, w, at={(82pt,-345pt)}, width=348pt, height=226pt,
  xmin=0, xmax=0.84, ymin=0, ymax=12, ytick={0,2,4,6,8,10,12},
  ylabel={dB(B→Ke\textsuperscript{+}e\textsuperscript{-})/d\vp\ (x10\textsuperscript{-7})}]
\legO
\addplot[rpvo, forget plot] table {\dCx};
\addplot[rpvo, forget plot] table {\dCsm};
\addplot[sm, forget plot] table {\dCsm};
\end{axis}
\lbl{250}{625}{c}

% (d)
\begin{axis}[panel, w, at={(530pt,-340pt)}, width=342pt, height=229pt,
  xmin=0, xmax=0.85, ymin=0, ymax=15, ytick={0,3,6,9,12,15},
  ylabel={dB'(B→Ke\textsuperscript{+}e\textsuperscript{-})/d\vp\ (x10\textsuperscript{-7})}]
\legO
\addplot[rpvo, forget plot] table {\dDx};
\addplot[rpvo, forget plot] table {\dDsm};
\addplot[sm, forget plot] table {\dDsm};
\end{axis}
\lbl{695}{625}{d}

% (e)
\begin{axis}[panel, w, at={(76pt,-644pt)}, width=350pt, height=231pt,
  xmin=0, xmax=0.8, ymin=0, ymax=50, ytick={0,10,20,30,40,50},
  ylabel={dB(B→K\textsuperscript{*}e\textsuperscript{+}e\textsuperscript{-})/d\vp\ (x10\textsuperscript{-7})}]
\leg
\addplot[rpv, forget plot] table {\dE};
\addplot[sm, forget plot] table {\dE};
\end{axis}
\lbl{249}{928}{e}

% (f)
\begin{axis}[panel, w, at={(527pt,-641pt)}, width=345pt, height=230pt,
  xmin=0, xmax=0.8, ymin=0, ymax=50, ytick={0,10,20,30,40,50},
  ylabel={dB'(B→K\textsuperscript{*}e\textsuperscript{+}e\textsuperscript{-})/d\vp\ (x10\textsuperscript{-7})}]
\leg
\addplot[rpv, forget plot] table {\dF};
\addplot[sm, forget plot] table {\dF};
\end{axis}
\lbl{700}{925}{f}

% (g)
\begin{axis}[panel, w, at={(77pt,-946pt)}, width=347pt, height=231pt,
  xmin=0, xmax=0.8, ymin=-0.6, ymax=0.8, ytick={-0.6,-0.4,-0.2,0,0.2,0.4,0.6,0.8},
  yticklabel style={/pgf/number format/.cd, fixed, fixed zerofill, precision=1},
  ylabel={dA\textsubscript{FB}(B→K\textsuperscript{*}e\textsuperscript{+}e\textsuperscript{-})/d\vp}]
\leg
\addplot[rpv, forget plot] table {\dG};
\addplot[sm, forget plot] table {\dG};
\end{axis}
\lbl{252}{1232}{g}

% (h)
\begin{axis}[panel, w, at={(534pt,-944pt)}, width=340pt, height=234pt,
  xmin=0, xmax=0.8, ymin=-0.6, ymax=0.8, ytick={-0.6,-0.4,-0.2,0,0.2,0.4,0.6,0.8},
  yticklabel style={/pgf/number format/.cd, fixed, fixed zerofill, precision=1},
  ylabel={dA'\textsubscript{FB}(B→K\textsuperscript{*}e\textsuperscript{+}e\textsuperscript{-})/d\vp}]
\leg
\addplot[rpv, forget plot] table {\dH};
\addplot[sm, forget plot] table {\dH};
\end{axis}
\lbl{705}{1232}{h}

\end{tikzpicture}
\end{document}
